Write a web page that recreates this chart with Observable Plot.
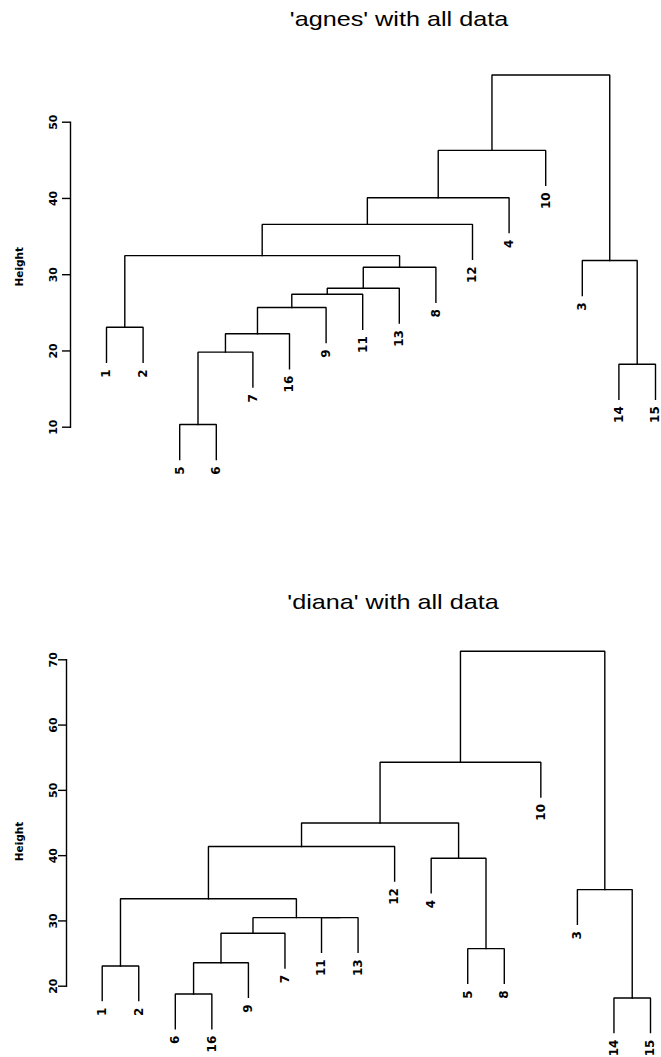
<!DOCTYPE html>
<html>
<head>
<meta charset="utf-8">
<script src="https://cdn.jsdelivr.net/npm/d3@7"></script>
<script src="https://cdn.jsdelivr.net/npm/@observablehq/plot@0.6"></script>
<style>
  html, body { margin: 0; padding: 0; background: #fff; }
  body { position: relative; width: 661px; height: 1057px; overflow: hidden;
         font-family: "Liberation Sans", Arial, Helvetica, sans-serif; color: #000; }
  .title { position: absolute; transform: translateX(-50%) scaleX(1.2); white-space: nowrap;
           font-size: 21px; line-height: 1; }
  .chart { position: absolute; left: 0; }
  .chart svg { overflow: visible; }
</style>
</head>
<body>
<div class="title" id="title1" style="left:399px; top:8px;">'agnes' with all data</div>
<div class="title" id="title2" style="left:393px; top:591px;">'diana' with all data</div>
<div class="chart" id="chart1" style="top:0px;"></div>
<div class="chart" id="chart2" style="top:540px;"></div>
<script>
// ---------- data (R hclust-style: negative = observation, positive = earlier merge step) ----------
const agnesOrder  = [1, 2, 5, 6, 7, 16, 9, 11, 13, 8, 12, 4, 10, 3, 14, 15];
const agnesMerge  = [[-5,-6], [-14,-15], [1,-7], [3,-16], [-1,-2], [4,-9], [6,-11], [7,-13],
                     [8,-8], [-3,2], [5,9], [11,-12], [12,-4], [13,-10], [14,10]];
const agnesHeight = [10.35, 18.26, 19.84, 22.25, 23.1, 25.7, 27.44, 28.23,
                     30.98, 31.86, 32.5, 36.6, 40.1, 46.3, 56.2];
const agnesTicks  = [10, 20, 30, 40, 50];

const dianaOrder  = [1, 2, 6, 16, 9, 7, 11, 13, 12, 4, 5, 8, 10, 3, 14, 15];
const dianaMerge  = [[-14,-15], [-6,-16], [-1,-2], [2,-9], [-5,-8], [4,-7], [-11,-13], [6,7],
                     [3,8], [-3,1], [-4,5], [9,-12], [12,11], [13,-10], [14,10]];
const dianaHeight = [18.2, 18.8, 23.1, 23.6, 25.75, 28.1, 30.5, 30.5,
                     33.4, 34.8, 39.6, 41.4, 45.0, 54.3, 71.3];
const dianaTicks  = [20, 30, 40, 50, 60, 70];

const hangFraction = 0.1;
const labelFont = '"DejaVu Sans", "Liberation Sans", Arial, sans-serif';

// ---------- dendrogram layout from the merge table ----------
function dendro(order, merge, height) {
  const pos = new Map(order.map((id, i) => [id, i]));
  const hang = hangFraction * (d3.max(height) - d3.min(height));
  const nodeX = [];
  const paths = [];
  const leaves = [];
  merge.forEach(([a, b], k) => {
    const h = height[k];
    const child = c => c < 0
      ? {x: pos.get(-c), y: h - hang, leaf: -c}
      : {x: nodeX[c - 1], y: height[c - 1]};
    const A = child(a), B = child(b);
    nodeX[k] = (A.x + B.x) / 2;
    paths.push({id: k, x: A.x, y: A.y}, {id: k, x: A.x, y: h},
               {id: k, x: B.x, y: h}, {id: k, x: B.x, y: B.y});
    for (const c of [A, B]) if (c.leaf) leaves.push({x: c.x, y: c.y, label: String(c.leaf)});
  });
  return {paths, leaves};
}

function chart({order, merge, height, ticks, svgHeight, mLeft, mTop, mBottom, xRange, tickDx, labDx, labDy}) {
  const {paths, leaves} = dendro(order, merge, height);
  return Plot.plot({
    width: 661,
    height: svgHeight,
    marginLeft: mLeft,
    marginRight: 0,
    marginTop: mTop,
    marginBottom: mBottom,
    style: {fontFamily: labelFont, background: "transparent", color: "#000", overflow: "visible"},
    x: {domain: [0, order.length - 1], range: xRange, axis: null},
    y: {domain: [d3.min(ticks), d3.max(ticks)]},
    marks: [
      Plot.frame({anchor: "left", stroke: "#000", strokeWidth: 1.4}),
      Plot.axisY({ticks, tickSize: 8, tickFormat: () => "", label: null, stroke: "#000", strokeWidth: 1.4}),
      Plot.text(ticks, {y: d => d, text: d => String(d), frameAnchor: "left", dx: tickDx,
                        rotate: -90, textAnchor: "middle", fontSize: 11, fontWeight: "bold", fill: "#000"}),
      Plot.text(["Height"], {frameAnchor: "left", dx: labDx, dy: labDy, rotate: -90, textAnchor: "middle",
                             fontSize: 10.5, fontWeight: "bold", fill: "#000"}),
      Plot.line(paths, {x: "x", y: "y", z: "id", stroke: "#000", strokeWidth: 1.4, strokeLinejoin: "miter", strokeLinecap: "square"}),
      Plot.text(leaves, {x: "x", y: "y", text: "label", rotate: -90, textAnchor: "end", dy: 7,
                         fontSize: 12, fontWeight: "bold", fill: "#000"})
    ]
  });
}

document.getElementById("chart1").append(chart({
  order: agnesOrder, merge: agnesMerge, height: agnesHeight, ticks: agnesTicks,
  svgHeight: 540, mLeft: 70, mTop: 121.7, mBottom: 540 - 426.7, xRange: [106, 655],
  tickDx: -17.5, labDx: -51, labDy: -8
}));
document.getElementById("chart2").append(chart({
  order: dianaOrder, merge: dianaMerge, height: dianaHeight, ticks: dianaTicks,
  svgHeight: 517, mLeft: 66, mTop: 119.3, mBottom: 517 - 445.7, xRange: [101.7, 650],
  tickDx: -13.5, labDx: -47, labDy: 18.5
}));
</script>
</body>
</html>
